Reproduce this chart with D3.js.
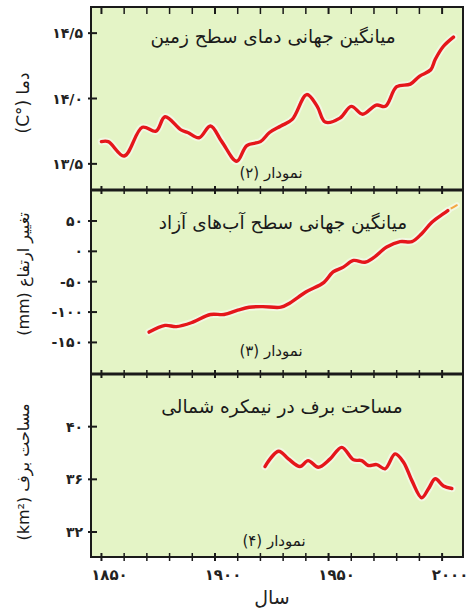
<!DOCTYPE html>
<html><head><meta charset="utf-8">
<script src="https://cdn.jsdelivr.net/npm/d3@7/dist/d3.min.js"></script>
<style>body{margin:0;background:#fff}svg{display:block}</style>
</head><body>
<script>
// ---- data ----
const tempYears = [1850,1853,1860,1868,1874,1878,1885,1888,1893,1898,1903,1909.6,1914,1920,1924,1929,1934,1940.4,1945,1948.5,1955,1960,1965,1971,1975,1980,1986,1990,1995,1997,2000.6,2005];
const tempValues = [13.67,13.67,13.56,13.78,13.75,13.86,13.76,13.74,13.70,13.79,13.67,13.52,13.64,13.67,13.74,13.79,13.84,14.03,13.94,13.82,13.85,13.94,13.88,13.95,13.94,14.09,14.11,14.17,14.22,14.30,14.40,14.47];

const seaYears = [1871,1878,1883,1890,1898,1904,1910,1915,1921,1929,1933,1940,1948,1952,1956.5,1961,1966,1970,1975.6,1981.5,1986.7,1991,1995.5,2000.6,2002.5];
const seaValues = [-133,-122,-124,-117,-104,-104,-97,-92,-91,-92,-85,-67,-51,-34,-26,-15,-18,-10,7,16,16,29,48,62,67];
const satYears = [1993,1996,1999,2002,2006.5];
const satValues = [38,50,58,66,76];

const snowYears = [1922,1928,1932.3,1937.4,1941,1945.5,1950.7,1955.8,1961,1964.6,1967.5,1971.2,1974.9,1979.3,1983,1986.7,1991,1994,1997,2000.6,2004.3];
const snowValues = [36.97,38.13,37.55,36.97,37.42,36.92,37.55,38.43,37.48,37.42,37.05,37.12,36.80,37.93,37.30,35.9,34.6,35.28,36.04,35.5,35.3];

const xTickYears = [1850,1900,1950,2000];
const xTickLabels = ["۱۸۵۰","۱۹۰۰","۱۹۵۰","۲۰۰۰"];
const tempTicks = [13.5,14.0,14.5];
const tempTickLabels = ["۱۳/۵","۱۴/۰","۱۴/۵"];
const seaTicks = [-150,-100,-50,0,50];
const seaTickLabels = ["-۱۵۰","-۱۰۰","-۵۰","۰","۵۰"];
const snowTicks = [32,36,40];
const snowTickLabels = ["۳۲","۳۶","۴۰"];

const titles = ["میانگین جهانی دمای سطح زمین","میانگین جهانی سطح آب‌های آزاد","مساحت برف در نیمکره شمالی"];
const tags = ["نمودار (۲)","نمودار (۳)","نمودار (۴)"];
const yTitles = ["دما (°C)","تغییر ارتفاع (mm)","مساحت برف (km²)"];
const xTitle = "سال";

// ---- layout ----
const W = 470, H = 611;
const L = 91, R = 463;
const tops = [7,190,374], bots = [190,374,557];
const svg = d3.select("body").append("svg").attr("width",W).attr("height",H);
const fa = "DejaVu Sans, sans-serif";

const x = d3.scaleLinear().domain([1845.4,2009.2]).range([L,R]);
const ys = [
  d3.scaleLinear().domain([13.3,14.7]).range([bots[0],tops[0]]),
  d3.scaleLinear().domain([-202,101]).range([bots[1],tops[1]]),
  d3.scaleLinear().domain([30.1,44]).range([bots[2],tops[2]])
];

svg.append("rect").attr("x",L).attr("y",tops[0]).attr("width",R-L).attr("height",bots[2]-tops[0]).attr("fill","#e4f4c6");

const minor = d3.range(1850,2001,10);
[tops[0],bots[0],bots[1],bots[2]].forEach((yy,i)=>{
  svg.append("g").selectAll("line").data(minor).join("line")
    .attr("x1",d=>x(d)).attr("x2",d=>x(d))
    .attr("y1", i===0 ? yy : yy-4).attr("y2", yy+ (i===0?7:4))
    .attr("stroke","#1a1a1a").attr("stroke-width",d=>d%50===0?2:1.5);
});

const line = (xs,vs,y) => d3.line().x((d,i)=>x(xs[i])).y((d,i)=>y(vs[i])).curve(d3.curveCatmullRom.alpha(0.5))(vs);
function drawLine(xs,vs,y,color,w){
  svg.append("path").attr("d",line(xs,vs,y)).attr("fill","none").attr("stroke","#f4f9e8").attr("stroke-width",w+4).attr("stroke-linejoin","round").attr("stroke-linecap","round").attr("opacity",0.8);
  svg.append("path").attr("d",line(xs,vs,y)).attr("fill","none").attr("stroke",color).attr("stroke-width",w).attr("stroke-linejoin","round").attr("stroke-linecap","round");
}
drawLine(tempYears,tempValues,ys[0],"#e5161b",3.4);
drawLine(satYears,satValues,ys[1],"#f4a742",2);
drawLine(seaYears,seaValues,ys[1],"#e5161b",3.4);
drawLine(snowYears,snowValues,ys[2],"#e5161b",3.4);

svg.append("rect").attr("x",L).attr("y",tops[0]).attr("width",R-L).attr("height",bots[2]-tops[0]).attr("fill","none").attr("stroke","#1a1a1a").attr("stroke-width",2);
[bots[0],bots[1]].forEach(yy=>svg.append("line").attr("x1",L).attr("x2",R).attr("y1",yy).attr("y2",yy).attr("stroke","#1a1a1a").attr("stroke-width",3));

const yTickSets = [[tempTicks,tempTickLabels],[seaTicks,seaTickLabels],[snowTicks,snowTickLabels]];
yTickSets.forEach(([tv,tl],k)=>{
  const g = svg.append("g");
  g.selectAll("line").data(tv).join("line")
    .attr("x1",L-3).attr("x2",L+6).attr("y1",d=>ys[k](d)).attr("y2",d=>ys[k](d))
    .attr("stroke","#1a1a1a").attr("stroke-width",2);
  g.selectAll("text").data(tv).join("text")
    .attr("x",83).attr("y",d=>ys[k](d)+5).attr("text-anchor","end").attr("direction","ltr")
    .attr("font-family",fa).attr("font-size",14).attr("font-weight","bold").attr("fill","#222").text((d,i)=>tl[i]);
});

svg.append("g").selectAll("text").data(xTickYears).join("text")
  .attr("x",d=>x(d)+8).attr("y",580).attr("text-anchor","middle").attr("direction","ltr")
  .attr("font-family",fa).attr("font-size",15).attr("font-weight","bold").attr("fill","#222").text((d,i)=>xTickLabels[i]);
svg.append("text").attr("x",272).attr("y",604).attr("text-anchor","middle").attr("direction","rtl")
  .attr("font-family",fa).attr("font-size",19).attr("fill","#222").text(xTitle);

const titlePos = [[273,43],[283,229],[282,413]];
const tagPos = [[271,178],[271,356],[274,546]];
titles.forEach((t,i)=>{
  svg.append("text").attr("x",titlePos[i][0]).attr("y",titlePos[i][1]).attr("text-anchor","middle").attr("direction","rtl")
    .attr("font-family",fa).attr("font-size",18.5).attr("fill","#1a1a1a").text(t);
  svg.append("text").attr("x",tagPos[i][0]).attr("y",tagPos[i][1]).attr("text-anchor","middle").attr("direction","rtl")
    .attr("font-family",fa).attr("font-size",15).attr("fill","#1a1a1a").text(tags[i]);
});

const yTitlePos = [[29,103],[29,274],[29,472]];
const yTitleSize = [17,16,16];
yTitles.forEach((t,i)=>{
  svg.append("text").attr("transform",`translate(${yTitlePos[i][0]},${yTitlePos[i][1]}) rotate(-90)`)
    .attr("text-anchor","middle").attr("direction","rtl")
    .attr("font-family",fa).attr("font-size",yTitleSize[i]).attr("fill","#1a1a1a").text(t);
});
</script>
</body></html>
